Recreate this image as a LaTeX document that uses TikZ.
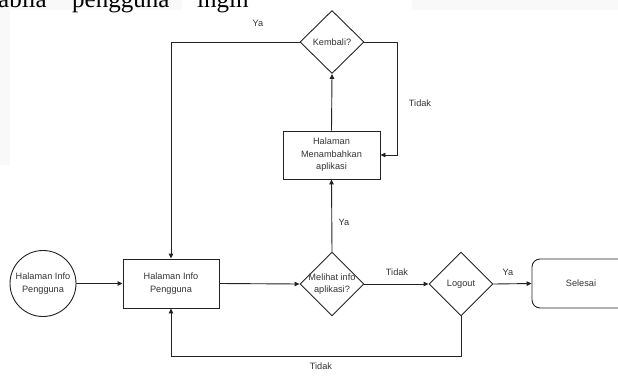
\documentclass[tikz,border=0pt]{standalone}
\usepackage{fontspec}
\setmainfont{Liberation Sans}
\newfontfamily\bodyserif{Liberation Serif}
\usetikzlibrary{shapes.geometric,arrows.meta}
\definecolor{ink}{HTML}{222222}
\definecolor{txt}{HTML}{333333}
\definecolor{faint}{HTML}{F9F9F9}
\tikzset{
  every node/.style={font=\fontsize{9.2}{12.5}\selectfont, text=txt},
  proc/.style={draw=ink, line width=0.9pt, minimum width=96pt, minimum height=49pt, inner sep=0pt, align=center},
  term/.style={proc, rounded corners=8pt, minimum width=98pt},
  startnode/.style={draw=ink, line width=0.9pt, circle, minimum size=66pt, inner sep=0pt, align=center},
  dia/.style={draw=ink, line width=0.9pt, diamond, minimum width=64pt, minimum height=64pt, inner sep=0pt},
  dtext/.style={align=center, inner sep=0pt},
  lbl/.style={inner sep=0pt},
  pageword/.style={font=\bodyserif\fontsize{25}{25}\selectfont, text=black, inner sep=0pt},
  arr/.style={draw=ink, line width=0.9pt, -{Triangle[length=5pt,width=4.5pt]}},
}
\begin{document}
\begin{tikzpicture}[x=1pt,y=1pt]
\useasboundingbox (0,0) rectangle (618,-381);
\begin{scope}
\clip (0,0) rectangle (618,-381);
% faint page background pieces
\fill[faint] (0,0) rectangle (182,-10);
\fill[faint] (412,0) rectangle (618,-10);
\fill[faint] (0,-10) rectangle (10,-165);
% running text of the page above the chart
\node[pageword, anchor=base east] (w1) at (47,-7.5) {apabila};
\node[pageword, anchor=base west] (w2) at (72,-7.5) {pengguna};
\node[pageword, anchor=base west] (w3) at (197,-7.5) {ingin};

% nodes
\node[startnode] (start) at (43,-283.5) {Halaman Info\\Pengguna};
\node[proc] (info) at (171,-283.5) {Halaman Info\\Pengguna};
\node[dia] (melihat) at (332,-284) {};
\node[dtext] (melihatT) at (melihat.center) {Melihat info\\aplikasi?};
\node[dia] (logout) at (461,-284) {};
\node[dtext] (logoutT) at (logout.center) {Logout};
\node[term] (selesai) at (581,-283.5) {Selesai};
\node[proc, minimum width=97pt, minimum height=48pt] (tambah) at (331.5,-155) {Halaman\\Menambahkan\\aplikasi};
\node[dia, minimum height=63pt] (kembali) at (332,-42) {};
\node[dtext] (kembaliT) at (kembali.center) {Kembali?};

% bend points
\coordinate (b1) at (461,-356);
\coordinate (b2) at (171,-356);
\coordinate (r1) at (397,-42);
\coordinate (r2) at (397,-155);
\coordinate (l1) at (171,-42);

% connectors
\draw[arr] (start.east) -- (info.west);
\draw[arr] (info.east) -- (melihat.west);
\draw[arr] (melihat.east) -- (logout.west);
\draw[arr] (logout.east) -- (selesai.west);
\draw[arr] (logout.south) -- (b1) -- (b2) -- (info.south);
\draw[arr] (melihat.north) -- (tambah.south);
\draw[arr] (tambah.north) -- (kembali.south);
\draw[arr] (kembali.east) -- (r1) -- (r2) -- (tambah.east);
\draw[arr] (kembali.west) -- (l1) -- (info.north);

% connector labels
\node[lbl] (t1) at (397,-272) {Tidak};
\node[lbl] (y1) at (508,-272) {Ya};
\node[lbl] (t2) at (321,-366) {Tidak};
\node[lbl] (y2) at (344,-222) {Ya};
\node[lbl] (t3) at (420,-103) {Tidak};
\node[lbl] (y3) at (258,-23) {Ya};
\end{scope}
\end{tikzpicture}
\end{document}
